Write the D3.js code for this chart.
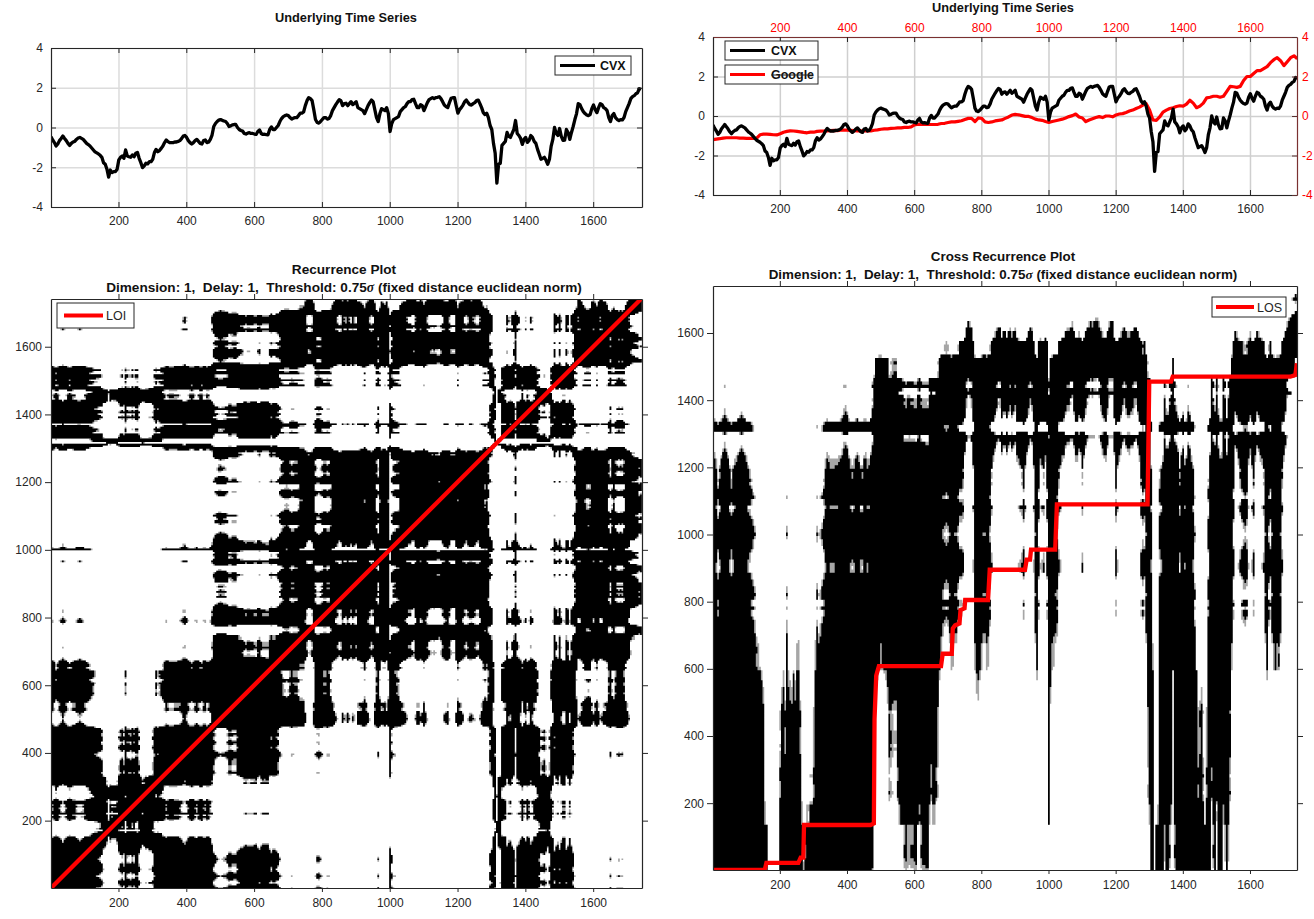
<!DOCTYPE html>
<html><head><meta charset="utf-8">
<script src="https://cdn.jsdelivr.net/npm/d3@7/dist/d3.min.js"></script>
<style>html,body{margin:0;background:#fff}svg{display:block}text{font-family:"Liberation Sans",Arial,sans-serif;white-space:pre}</style>
</head><body><svg id="c" width="1314" height="919"><defs><filter id="soft" x="-2%" y="-2%" width="104%" height="104%"><feGaussianBlur stdDeviation="0.55"/></filter></defs></svg>
<script>
const xTickValues=[200,400,600,800,1000,1200,1400,1600];
const seriesTicks=[-4,-2,0,2,4];
const plotTicks=[200,400,600,800,1000,1200,1400,1600];
const threshold=0.75, solidMargin=0.06, fuzzMargin=0.14;
const cvxStep=5, googleStep=10;
const cvx=[
-.46,-.63,-.76,-.93,-.83,-.66,-.55,-.43,-.55,-.66,-.8,-.9,-.8,-.73,-.7,-.6,-.53,-.5,-.55,-.6,
-.7,-.8,-.86,-.93,-1.03,-1.13,-1.23,-1.28,-1.33,-1.4,-1.5,-1.77,-1.85,-2.1,-2.5,-2.14,-2.27,-2.22,-2.22,-2.1,
-1.63,-1.5,-1.43,-1.55,-1.13,-1.43,-1.47,-1.5,-1.38,-1.47,-1.3,-1.26,-1.55,-1.77,-2.02,-1.93,-1.8,-1.83,-1.72,-1.72,
-1.6,-1.26,-1.1,-1.22,-1.16,-1.05,-.93,-.76,-.63,-.71,-.76,-.76,-.76,-.73,-.73,-.7,-.66,-.56,-.43,-.4,
-.5,-.66,-.76,-.83,-.76,-.66,-.6,-.7,-.8,-.83,-.66,-.63,-.76,-.73,-.6,-.38,.05,.2,.3,.37,
.4,.36,.33,.3,.2,.05,.08,.13,.15,.15,0,-.1,-.15,-.18,-.3,-.33,-.28,-.26,-.3,-.3,
-.33,-.35,-.2,-.12,-.3,-.35,-.34,-.36,-.37,-.1,.03,-.1,-.1,0,.1,.3,.45,.55,.6,.63,
.6,.5,.42,.47,.5,.5,.6,.72,.72,.78,1.1,1.35,1.5,1.45,1.35,.9,.4,.25,.22,.3,
.4,.5,.5,.42,.45,.6,.85,1,1.15,1.28,1.4,1.35,1.1,1.2,1.22,1.1,1.2,1.3,1.15,1.22,
1.3,1,.95,.9,.85,.7,.9,1.1,1.25,1.38,1.3,.9,.5,.3,.7,.95,.9,.85,1,.7,
-.2,.2,.4,.45,.5,.55,.8,.9,1,1.05,1.2,1.3,1.3,1.4,1.42,1.2,1,1,1.15,1.1,
.85,1.05,1.25,1.4,1.45,1.5,1.45,1.5,1.52,1.55,1.45,1.3,1.13,1.05,1,1.25,1.47,1.5,1.5,1.1,
.72,.9,1,1.13,1.3,1.38,1.25,1.15,1.13,1.2,1.25,1.35,1.38,1.2,1,.75,.65,.72,.5,.1,
-.1,-.8,-1.3,-2.8,-1.85,-1.8,-.9,-.8,-.7,-.25,-.45,-.5,-.3,-.1,.35,-.3,-.4,-.55,-.85,-.6,
-.5,-.75,-.65,-.4,-.5,-.7,-.8,-1.1,-1.35,-1.6,-1.55,-1.5,-1.65,-1.85,-1.6,-.95,-.6,0,-.3,-.4,
-.05,-.45,-.65,-.63,-.1,-.25,-.6,-.25,.05,.4,.7,1.2,1.15,.95,.8,.7,.63,.6,.65,.95,
1.13,.9,.75,1,1.2,1.15,1,.95,.85,.5,.3,.6,.7,.5,.4,.35,.4,.38,.5,.8,
1,1.2,1.45,1.55,1.6,1.7,1.75,1.95,1.9];
const google=[
-1.2,-1.17,-1.15,-1.12,-1.1,-1.1,-1.1,-1.1,-1.12,-1.12,-1.13,-1.13,-1.14,-1.12,-.95,-.92,-.92,-.93,-.95,-.96,
-.9,-.82,-.78,-.75,-.76,-.78,-.8,-.83,-.85,-.82,-.82,-.78,-.77,-.76,-.75,-.74,-.73,-.74,-.72,-.72,
-.72,-.73,-.74,-.75,-.75,-.75,-.75,-.76,-.72,-.7,-.67,-.65,-.65,-.63,-.62,-.6,-.6,-.58,-.58,-.55,
-.45,-.42,-.42,-.42,-.42,-.43,-.43,-.42,-.38,-.37,-.33,-.3,-.3,-.27,-.24,-.18,-.12,-.12,-.28,-.1,
-.12,-.3,-.33,-.3,-.25,-.22,-.2,-.12,-.05,.05,.08,.06,.02,-.02,-.02,-.08,-.16,-.2,-.22,-.28,
-.33,-.28,-.24,-.2,-.16,-.1,-.03,.02,.1,-.05,-.1,-.28,-.2,-.14,-.08,-.03,-.08,0,0,-.04,
.05,.1,.12,.18,.25,.3,.38,.45,.55,.62,.3,-.2,-.22,-.05,.2,.3,.38,.42,.48,.52,
.5,.6,.8,.65,.42,.5,.65,.92,.95,1,1,.95,1,1.25,1.5,1.48,1.45,1.5,1.8,2,
2,2.15,2.3,2.3,2.4,2.5,2.7,2.85,2.95,2.8,2.55,2.75,2.95,3.05,2.9];
const losX=[1,155,160,255,262,270,272,470,480,482,487,495,680,685,712,715,722,735,738,750,752,820,825,930,935,945,948,1020,1025,1295,1300,1365,1370,1720,1735,1740];
const losY=[1,1,22,22,38,38,135,135,140,450,580,608,608,645,645,720,730,735,775,780,805,805,895,895,925,925,955,955,1090,1090,1455,1455,1470,1470,1475,1510];

const cvxS=cvx.map((_,i)=>1+i*cvxStep), googleS=google.map((_,i)=>1+i*googleStep);
const svg=d3.select("#c");
const ink="#262626", FS=12;
const lineGen=(x,y)=>d3.line().x(d=>x(d[0])).y(d=>y(d[1]));
let clipN=0;
function clip(r){const id="clip"+(clipN++);svg.append("clipPath").attr("id",id).append("rect").attr("x",r.l).attr("y",r.t).attr("width",r.r-r.l).attr("height",r.b-r.t);return "url(#"+id+")";}
function styleAxis(g,color){g.selectAll("text").attr("fill",color).style("font-size",FS+"px").style("font-family",'"Liberation Sans",Arial,sans-serif');g.selectAll("line").attr("stroke",color);g.select(".domain").attr("stroke",color).attr("stroke-width",1.2);}
function title(lines,cx,size){lines.forEach(l=>{const t=svg.append("text").attr("x",cx).attr("y",l.y).attr("text-anchor","middle").attr("fill","#111").style("font-size",size+"px").style("font-weight","bold");
 if(l.s){t.append("tspan").text(l.s[0]);t.append("tspan").text("σ").style("font-style","italic").style("font-family",'"Liberation Serif",serif');t.append("tspan").text(l.s[1]);}else t.text(l.t);});}
function legend(x,y,w,h,color,label,bold,lx0,lx1,tx,lw){
 svg.append("rect").attr("x",x).attr("y",y).attr("width",w).attr("height",h).attr("fill","#fff").attr("stroke",ink).attr("stroke-width",1);
 svg.append("line").attr("x1",lx0).attr("x2",lx1).attr("y1",y+h/2).attr("y2",y+h/2).attr("stroke",color).attr("stroke-width",lw);
 svg.append("text").attr("x",tx).attr("y",y+h/2+4.5).text(label).attr("fill",bold?"#111":ink).style("font-size","12.5px").style("font-weight",bold?"bold":"normal");
}
function seriesPanel(r,xDom,grid,twin){
 const x=d3.scaleLinear().domain(xDom).range([r.l,r.r]), y=d3.scaleLinear().domain([-4,4]).range([r.b,r.t]);
 svg.append("g").attr("transform",`translate(0,${r.b})`).call(d3.axisBottom(x).tickValues(xTickValues).tickSize(-(r.b-r.t)).tickFormat("")).call(g=>{g.select(".domain").remove();g.selectAll("line").attr("stroke",grid).attr("stroke-width",1.5);});
 svg.append("g").attr("transform",`translate(${r.l},0)`).call(d3.axisLeft(y).tickValues(seriesTicks).tickSize(-(r.r-r.l)).tickFormat("")).call(g=>{g.select(".domain").remove();g.selectAll("line").attr("stroke",grid).attr("stroke-width",1.5);});
 const cp=clip(r);
 if(twin) svg.append("path").datum(google.map((v,i)=>[googleS[i],v])).attr("d",lineGen(x,y)).attr("fill","none").attr("stroke","#f00").attr("stroke-width",3.2).attr("clip-path",cp).attr("stroke-linejoin","round");
 svg.append("path").datum(cvx.map((v,i)=>[cvxS[i],v])).attr("d",lineGen(x,y)).attr("fill","none").attr("stroke","#000").attr("stroke-width",3.3).attr("clip-path",cp).attr("stroke-linejoin","round");
 const fmt=d3.format("d"), yfmt=d=>String(d).replace("−","-");
 svg.append("g").attr("transform",`translate(0,${r.b})`).call(d3.axisBottom(x).tickValues(xTickValues).tickFormat(fmt).tickSizeOuter(0).tickSizeInner(-5).tickPadding(9)).call(styleAxis,ink);
 svg.append("g").attr("transform",`translate(${r.l},0)`).call(d3.axisLeft(y).tickValues(seriesTicks).tickFormat(yfmt).tickSizeOuter(0).tickSizeInner(-5).tickPadding(8)).call(styleAxis,ink);
 const tc=twin?"#f00":ink, dc=twin?"#7a3030":ink;
 const t=svg.append("g").attr("transform",`translate(0,${r.t})`).call(d3.axisTop(x).tickValues(xTickValues).tickFormat(twin?fmt:"").tickSizeOuter(0).tickSizeInner(-5).tickPadding(5)).call(styleAxis,tc);
 t.selectAll("line").attr("stroke",ink); t.select(".domain").attr("stroke",dc);
 const rr=svg.append("g").attr("transform",`translate(${r.r},0)`).call(d3.axisRight(y).tickValues(seriesTicks).tickFormat(twin?yfmt:"").tickSizeOuter(0).tickSizeInner(-5).tickPadding(5)).call(styleAxis,tc);
 rr.selectAll("line").attr("stroke",twin?"#5a3030":ink); rr.select(".domain").attr("stroke",dc);
}
function rasterPath(x,y,xs,xv,xw,ys,yv,yw,limit){
 let d="";
 yv.forEach((vy,j)=>{
  const y0=y(ys[j]-yw/2), y1=y(ys[j]+yw/2);
  let i=0;
  while(i<xv.length){
   if(Math.abs(xv[i]-vy)<limit){
    let k=i; while(k+1<xv.length&&Math.abs(xv[k+1]-vy)<limit)k++;
    const a=x(xs[i]-xw/2), c=x(xs[k]+xw/2);
    d+=`M${a.toFixed(1)} ${y0.toFixed(1)}H${c.toFixed(1)}V${y1.toFixed(1)}H${a.toFixed(1)}Z`;
    i=k+1;
   } else i++;
  }
 });
 return d;
}
function raster(x,y,r,xs,xv,xw,ys,yv,yw){
 const g=svg.append("g").attr("clip-path",clip(r)).append("g").attr("filter","url(#soft)");
 g.append("path").attr("d",rasterPath(x,y,xs,xv,xw,ys,yv,yw,threshold+fuzzMargin)).attr("fill","#000").attr("fill-opacity",.35);
 g.append("path").attr("d",rasterPath(x,y,xs,xv,xw,ys,yv,yw,threshold+solidMargin)).attr("fill","#000");
}
function plotAxes(x,y,r){
 const fmt=d3.format("d");
 svg.append("g").attr("transform",`translate(0,${r.b})`).call(d3.axisBottom(x).tickValues(plotTicks).tickFormat(fmt).tickSizeOuter(0).tickSizeInner(4).tickPadding(6)).call(styleAxis,ink);
 svg.append("g").attr("transform",`translate(${r.l},0)`).call(d3.axisLeft(y).tickValues(plotTicks).tickFormat(fmt).tickSizeOuter(0).tickSizeInner(6).tickPadding(3)).call(styleAxis,ink);
 svg.append("g").attr("transform",`translate(0,${r.t})`).call(d3.axisTop(x).tickValues(plotTicks).tickFormat("").tickSizeOuter(0).tickSizeInner(5)).call(styleAxis,ink);
 svg.append("g").attr("transform",`translate(${r.r},0)`).call(d3.axisRight(y).tickValues(plotTicks).tickFormat("").tickSizeOuter(0).tickSizeInner(6)).call(styleAxis,ink);
}
const rTL={l:51,r:642,t:48,b:207};
seriesPanel(rTL,[1,1744],"#dcdcdc",false);
title([{y:22,t:"Underlying Time Series"}],346,12.8);
legend(555,56,76,19,"#000","CVX",true,560,595,600,2.8);
const rTR={l:713,r:1297,t:37,b:195};
seriesPanel(rTR,[1,1740],"#cfcfcf",true);
title([{y:12,t:"Underlying Time Series"}],1003,12.8);
legend(725,41,93,19,"#000","CVX",true,730,765,771,2.8);
legend(725,65,93,19,"#f00","Google",true,730,765,771,2.8);
svg.append("line").attr("x1",771).attr("x2",812).attr("y1",75).attr("y2",75).attr("stroke","#222").attr("stroke-width",1);
const rBL={l:51,r:642,t:299,b:888};
const xBL=d3.scaleLinear().domain([1,1744]).range([rBL.l,rBL.r]), yBL=d3.scaleLinear().domain([1,1741]).range([rBL.b,rBL.t]);
raster(xBL,yBL,rBL,cvxS,cvx,cvxStep,cvxS,cvx,cvxStep);
svg.append("path").datum([[1,1],[1741,1741]]).attr("d",lineGen(xBL,yBL)).attr("stroke","#f00").attr("stroke-width",4.3).attr("fill","none").attr("clip-path",clip(rBL));
plotAxes(xBL,yBL,rBL);
title([{y:274,t:"Recurrence Plot"},{y:292,s:["Dimension: 1,  Delay: 1,  Threshold: 0.75"," (fixed distance euclidean norm)"]}],344,13.6);
legend(57,303,77,25,"#f00","LOI",false,64,103,106,4);
const rBR={l:713,r:1297,t:286,b:870};
const xBR=d3.scaleLinear().domain([1,1740]).range([rBR.l,rBR.r]), yBR=d3.scaleLinear().domain([1,1740]).range([rBR.b,rBR.t]);
raster(xBR,yBR,rBR,cvxS,cvx,cvxStep,googleS,google,googleStep);
svg.append("path").datum(losX.map((v,i)=>[v,losY[i]])).attr("d",lineGen(xBR,yBR)).attr("stroke","#f00").attr("stroke-width",4.3).attr("fill","none").attr("clip-path",clip(rBR));
plotAxes(xBR,yBR,rBR);
title([{y:261,t:"Cross Recurrence Plot"},{y:279,s:["Dimension: 1,  Delay: 1,  Threshold: 0.75"," (fixed distance euclidean norm)"]}],1003,13.4);
legend(1212,297,74,20,"#f00","LOS",false,1216,1254,1257,4);
</script></body></html>
